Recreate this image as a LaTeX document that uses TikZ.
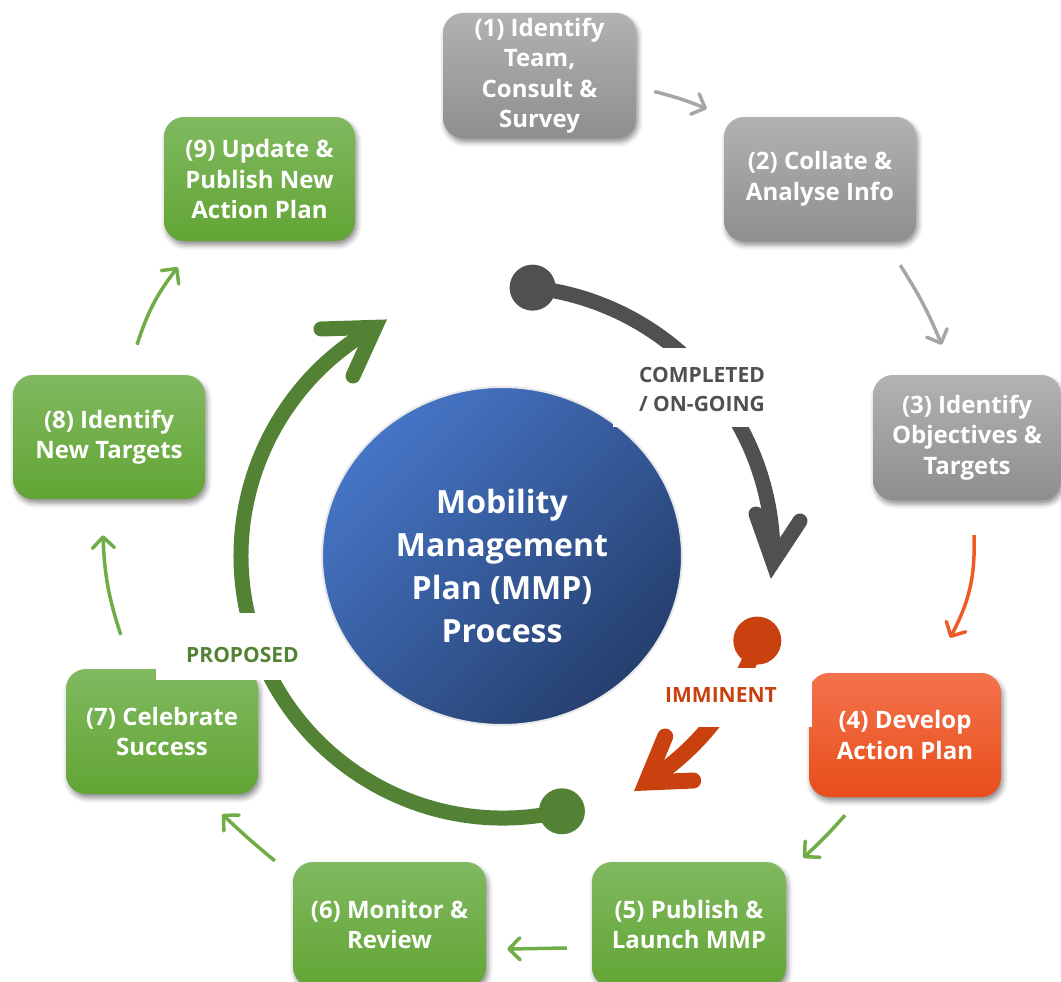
\documentclass[tikz,border=0pt]{standalone}
\usepackage{fontspec}
\setmainfont{Open Sans}
\usetikzlibrary{arrows.meta,shapes.geometric,shadows.blur,calc}

% palette
\definecolor{grayT}{HTML}{B2B2B2}
\definecolor{grayB}{HTML}{8E8E8E}
\definecolor{greenT}{HTML}{80B960}
\definecolor{greenB}{HTML}{62A534}
\definecolor{orangeT}{HTML}{F3724C}
\definecolor{orangeB}{HTML}{E84E1A}
\definecolor{hubT}{HTML}{4675C6}
\definecolor{hubB}{HTML}{253F6E}
\definecolor{darkc}{HTML}{505050}
\definecolor{leafc}{HTML}{548235}
\definecolor{redc}{HTML}{C9410F}
\definecolor{linkgray}{HTML}{A6A6A6}
\definecolor{linkorange}{HTML}{F05A28}
\definecolor{linkgreen}{HTML}{70AD47}

\begin{document}
\begin{tikzpicture}[x=1pt,y=1pt,
  stepbox/.style={rectangle, rounded corners=20pt, minimum width=192pt,
    minimum height=125pt, inner sep=0pt, align=center, text=white,
    font=\bfseries\fontsize{24}{30.5}\selectfont,
    blur shadow={shadow xshift=2pt, shadow yshift=-4pt,
      shadow blur radius=5pt, shadow opacity=45}},
  graybox/.style={stepbox, top color=grayT, bottom color=grayB},
  greenbox/.style={stepbox, top color=greenT, bottom color=greenB},
  orangebox/.style={stepbox, top color=orangeT, bottom color=orangeB},
  link/.style={line width=3.5pt, bend left=#1,
    -{Straight Barb[length=11pt,width=22pt,round]}},
  link/.default=4,
  ring/.style={line width=15pt},
  tipline/.style={line width=15pt, line cap=round, line join=miter},
  cover/.style={fill=white, draw=none, inner sep=0pt},
  tag/.style={inner sep=0pt, align=center,
    font=\bfseries\fontsize{21}{29}\selectfont},
]
\useasboundingbox (0,0) rectangle (1061,-982);

% process steps
\node[graybox, minimum width=193pt] (b1) at (539.5,-75.5)
  {(1) Identify\\Team,\\Consult \&\\Survey};
\node[graybox, minimum height=124pt] (b2) at (820,-179)
  {(2) Collate \&\\Analyse Info};
\node[graybox, minimum width=188pt] (b3) at (967,-437.5)
  {(3) Identify\\Objectives \&\\Targets};
\node[orangebox, minimum height=124pt] (b4) at (905,-735)
  {(4) Develop\\Action Plan};
\node[greenbox, minimum width=194pt] (b5) at (689,-924.5)
  {(5) Publish \&\\Launch MMP};
\node[greenbox, minimum width=193pt] (b6) at (389.5,-924.5)
  {(6) Monitor \&\\Review};
\node[greenbox] (b7) at (162,-731.5)
  {(7) Celebrate\\Success};
\node[greenbox, minimum height=124pt] (b8) at (109,-437)
  {(8) Identify\\New Targets};
\node[greenbox, minimum width=191pt, minimum height=124pt] (b9) at (259.5,-179)
  {(9) Update \&\\Publish New\\Action Plan};

% step-to-step links
\draw[link, linkgray] ([shift={(18,-16)}]b1.east) to ([shift={(-17,8)}]b2.north west);
\draw[link=5, linkgray] ([shift={(-16,-24)}]b2.south east) to ([shift={(69,30)}]b3.north west);
\draw[link=15, linkorange] ([shift={(7,-35)}]b3.south) to ([shift={(45,35)}]b4.north);
\draw[link=3, linkgreen] ([shift={(-60,-18)}]b4.south) to ([shift={(17,4)}]b5.north east);
\draw[link=0, linkgreen] ([shift={(-25,-23.5)}]b5.west) to ([shift={(21,-24.5)}]b6.east);
\draw[link=2, linkgreen] ([shift={(-18,1)}]b6.north west) to ([shift={(-36,-20)}]b7.south east);
\draw[link=8, linkgreen] ([shift={(55,34)}]b7.north west) to ([shift={(-6,-36)}]b8.south);
\draw[link=10, linkgreen] ([shift={(28,30)}]b8.north) to ([shift={(14,-26)}]b9.south west);

% central hub
\node[ellipse, minimum width=360pt, minimum height=338pt, inner sep=0pt,
  draw=black!9, line width=2pt,
  top color=hubT, bottom color=hubB, shading angle=45] (hub) at (502,-556) {};
\node[align=center, inner sep=0pt, text=white,
  font=\bfseries\fontsize{32}{43.3}\selectfont] (hubtext) at (502,-566)
  {Mobility\\Management\\Plan (MMP)\\Process};

% status rings around the hub
\coordinate (C) at (503,-556);

% completed / on-going
\fill[darkc] ($(C)+(83.7:270)$) circle[radius=23];
\draw[ring, darkc] ($(C)+(83.7:270)$) arc[start angle=83.7, end angle=-1.3, radius=270];
\coordinate (tipD) at ($(C)+(-1.3:270)$);
\draw[tipline, darkc] (756,-514) -- (tipD) -- (800,-521);

% imminent
\fill[redc] ($(C)+(-18.4:268)$) circle[radius=24];
\draw[ring, line width=16pt, redc] ($(C)+(-18.4:268)$) arc[start angle=-18.4, end angle=-57.7, radius=268];
\coordinate (tipR) at ($(C)+(-57.7:268)$);
\draw[tipline, line width=16pt, redc] ($(tipR)+(19,46)$) -- (tipR) -- ($(tipR)+(47,2)$);

% proposed
\fill[leafc] ($(C)+(-77:262)$) circle[radius=23];
\draw[ring, leafc] ($(C)+(-77:262)$) arc[start angle=-77, end angle=-240.8, radius=262];
\coordinate (tipG) at ($(C)+(119.2:262)$);
\draw[tipline, leafc] (321,-329) -- (tipG) -- (353,-376);

% status tags on white panels
\path[cover] (613,-348) rectangle (800,-427);
\node[tag, text=darkc] (tagc) at (702,-389) {COMPLETED\\/ ON-GOING};
\path[cover] (645,-668) rectangle (812,-727);
\node[tag, text=redc] (tagi) at (721,-694.5) {IMMINENT};
\path[cover] (156,-613) rectangle (325,-680);
\node[tag, text=leafc] (tagp) at (242.5,-654.5) {PROPOSED};
\end{tikzpicture}
\end{document}
